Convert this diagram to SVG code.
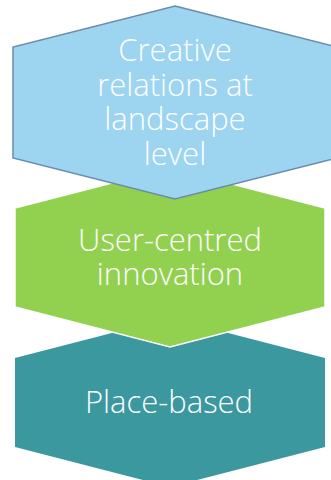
<svg xmlns="http://www.w3.org/2000/svg" width="331" height="480" viewBox="0 0 331 480">
<style>
text{font-family:"Open Sans","Noto Sans","Liberation Sans",sans-serif;font-size:31px;fill:#fff;text-anchor:middle;font-weight:300}
</style>
<rect width="331" height="480" fill="#fff"/>
<g id="place-based">
<polygon points="170,318 325,358 325,447 170,487 15,447 15,358" fill="#3B989F"/>
<text x="169" y="413">Place-based</text>
</g>
<g id="user-centred">
<polygon points="170,168 325,208 325,307 170,347 15,307 15,208" fill="#92D14F" stroke="#fff" stroke-width="1.5"/>
<text x="170" y="251">User-centred<tspan x="170" y="285">innovation</tspan></text>
</g>
<g id="creative-relations">
<polygon points="175,6 337,47 337,158 175,199 13,158 13,47" fill="#9DD4F0" stroke="#6A8CAA" stroke-width="1.5"/>
<text x="175" y="61">Creative<tspan x="175" y="96">relations at</tspan><tspan x="175" y="130">landscape</tspan><tspan x="175" y="165">level</tspan></text>
</g>
<g id="connectors"/>
</svg>
